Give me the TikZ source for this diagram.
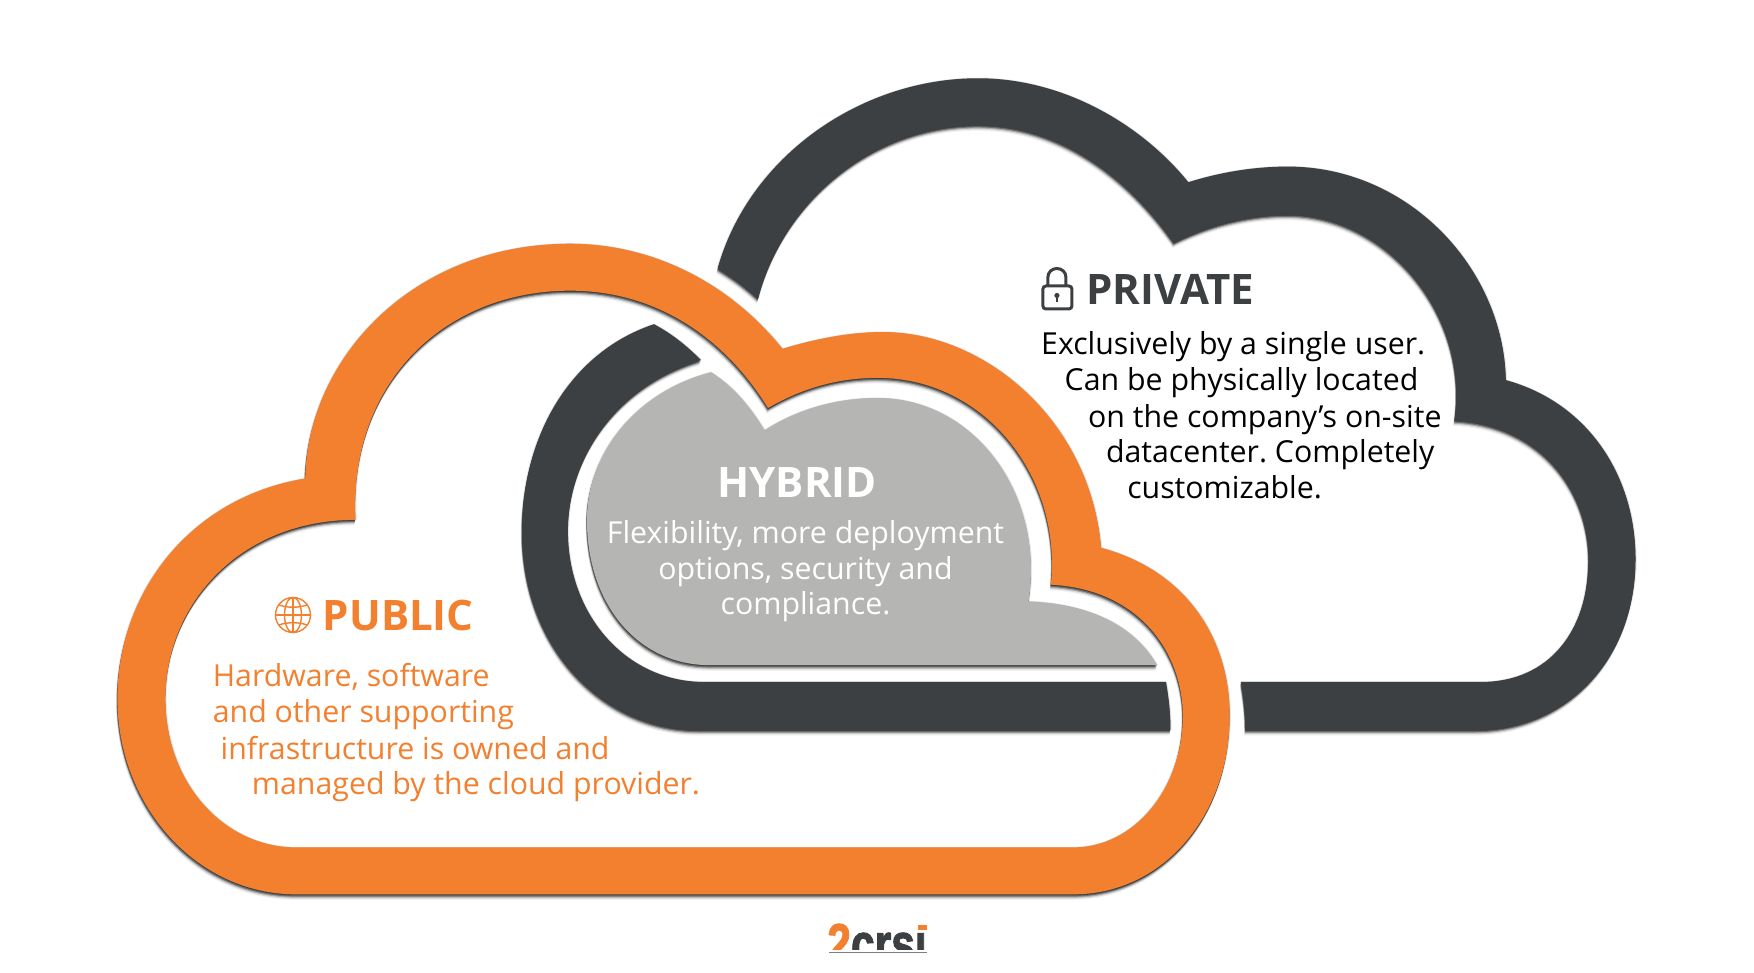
\documentclass[tikz,border=0pt]{standalone}
\usepackage{fontspec}
\usepackage{graphicx}
\setmainfont{Open Sans}
\newfontfamily\logofont{Liberation Sans Bold}[FakeBold=2]
\definecolor{cOrange}{HTML}{F2802F}
\definecolor{cDark}{HTML}{3C4043}
\definecolor{cGray}{HTML}{B5B5B3}
\newcommand{\shadowed}[2]{%
  \foreach \dx/\dy/\op in {-1/0/.10,1/0/.10,0/-.6/.08,-1/5/.05,0/1/.40,-.5/2/.35,-.5/3/.22,-1/4/.10}{%
    \fill[black,opacity=\op,even odd rule,shift={(\dx,\dy)}] #2;}%
  \fill[#1,even odd rule] #2;}
\tikzset{
  bodyline/.style={anchor=base west,inner sep=0pt,font=\frenchspacing\fontsize{15.15}{18}\selectfont},
  bodymid/.style={anchor=base,inner sep=0pt,font=\frenchspacing\fontsize{15.15}{18}\selectfont},
  headline/.style={inner sep=0pt,font=\fontsize{21}{25}\selectfont\bfseries}
}
\begin{document}
\begin{tikzpicture}[x=0.559pt,y=-0.559pt]
\useasboundingbox (0,0) rectangle (1569,870.3);
% private cloud, main piece
\shadowed{cDark}{(642,240) .. controls (670,140) and (770,70) .. (875,70)
  .. controls (950,70) and (1020,110) .. (1063,163)
  .. controls (1095,153) and (1125,149) .. (1152,149)
  .. controls (1260,149) and (1345,240) .. (1347,340)
  .. controls (1420,360) and (1463,425) .. (1463,500)
  .. controls (1463,590) and (1400,653) .. (1320,653)
  -- (1114,653) .. controls (1114,635) and (1112,622) .. (1110,610) -- (1325,610)
  .. controls (1385,610) and (1421,565) .. (1421,500)
  .. controls (1421,440) and (1380,380) .. (1301,376)
  .. controls (1315,280) and (1240,192) .. (1152,192)
  .. controls (1115,192) and (1080,202) .. (1050,217)
  .. controls (1010,160) and (950,112) .. (875,112)
  .. controls (780,112) and (700,180) .. (678,267)
  .. controls (665,255) and (655,248) .. (642,240) -- cycle}
% private cloud, piece inside the public cloud
\shadowed{cDark}{(585,290) .. controls (510,315) and (467,390) .. (467,475)
  .. controls (467,580) and (540,653) .. (625,653) -- (1047,653)
  .. controls (1047,635) and (1045,622) .. (1043,610) -- (630,610)
  .. controls (560,610) and (508,550) .. (508,475)
  .. controls (508,410) and (550,345) .. (627,322)
  .. controls (613,308) and (600,298) .. (585,290) -- cycle}
% hybrid fill
\shadowed{cGray}{(636,333) .. controls (570,350) and (525,405) .. (525,465)
  .. controls (525,540) and (570,595) .. (635,595) -- (1035,595)
  .. controls (1015,560) and (975,540) .. (920,538)
  .. controls (935,440) and (870,356) .. (785,356)
  .. controls (745,356) and (710,368) .. (684,385)
  .. controls (670,362) and (655,345) .. (636,333) -- cycle}
% public cloud
\shadowed{cOrange}{(265,800) -- (960,800)
  .. controls (1040,800) and (1100,730) .. (1100,640)
  .. controls (1100,570) and (1060,510) .. (985,490)
  .. controls (975,375) and (880,297) .. (790,297)
  .. controls (760,297) and (730,303) .. (700,312)
  .. controls (650,250) and (580,218) .. (510,218)
  .. controls (370,218) and (275,320) .. (273,428)
  .. controls (170,445) and (105,530) .. (105,625)
  .. controls (105,720) and (175,800) .. (265,800) -- cycle
  (265,758) -- (960,758)
  .. controls (1015,758) and (1058,705) .. (1058,640)
  .. controls (1058,585) and (1020,527) .. (940,523)
  .. controls (950,425) and (880,338) .. (785,338)
  .. controls (750,338) and (718,347) .. (687,365)
  .. controls (650,305) and (590,260) .. (510,260)
  .. controls (400,260) and (312,340) .. (318,465)
  .. controls (215,465) and (148,540) .. (148,625)
  .. controls (148,700) and (200,758) .. (265,758) -- cycle}
% private text
\node[headline,anchor=base west,text=cDark] (privatehead) at (971.5,272.5) {PRIVATE};
\node[bodyline,text=black] (priv1) at (931,317) {Exclusively by a single user.};
\node[bodyline,text=black] (priv2) at (952,349) {Can be physically located};
\node[bodyline,text=black] (priv3) at (973,382) {on the company’s on-site};
\node[bodyline,text=black] (priv4) at (989,414) {datacenter. Completely};
\node[bodyline,text=black] (priv5) at (1008,446) {customizable.};
% hybrid text
\node[headline,anchor=base,text=white] (hybridhead) at (713,445) {HYBRID};
\node[bodymid,text=white] (hyb1) at (720.5,486) {Flexibility, more deployment};
\node[bodymid,text=white] (hyb2) at (720.5,518) {options, security and};
\node[bodymid,text=white] (hyb3) at (720.5,550) {compliance.};
% public text
\node[headline,anchor=base west,text=cOrange] (publichead) at (288.5,564) {PUBLIC};
\node[bodyline,text=cOrange] (pub1) at (190,614) {Hardware, software};
\node[bodyline,text=cOrange] (pub2) at (190,646) {and other supporting};
\node[bodyline,text=cOrange] (pub3) at (197,679) {infrastructure is owned and};
\node[bodyline,text=cOrange] (pub4) at (225,711) {managed by the cloud provider.};
% icons and logo, in reference pixels
\begin{scope}[x=0.5pt,y=-0.5pt]
  % lock
  \draw[cDark,line width=1.5pt,rounded corners=1.5pt] (1043,286) rectangle (1072,309);
  \draw[cDark,line width=1.5pt] (1048,286) -- (1048,277) arc[start angle=180,end angle=0,x radius=9,y radius=-8.5] -- (1066,286);
  \fill[cDark] (1057,295.5) circle[radius=2.6];
  \fill[cDark] (1055.9,296) rectangle (1058.1,302);
  % globe
  \begin{scope}[cOrange,line width=0.7pt]
    \draw (293,615) circle[radius=17.5];
    \draw (293,615) ellipse[x radius=8.5,y radius=17.5];
    \draw (293,597.5) -- (293,632.5);
    \draw (275.5,615) -- (310.5,615);
    \draw (279,605) .. controls (287,608) and (299,608) .. (307,605);
    \draw (279,625) .. controls (287,622) and (299,622) .. (307,625);
  \end{scope}
  % logo
  \begin{scope}
    \clip (820,920) rectangle (935,950);
    \node[anchor=base west,inner sep=0pt,font=\logofont\fontsize{28}{31}\selectfont] (logo) at (827,963) {\scalebox{.76}[1]{\textcolor{cOrange}{2}\textcolor{cDark}{crsi}}};
  \end{scope}
  \fill[white] (915,920) rectangle (932,931);
  \fill[cOrange] (918,925) rectangle (927,930);
  \draw[cGray!70!black,line width=0.5pt] (829,952.5) -- (927,952.5);
\end{scope}
\end{tikzpicture}
\end{document}
